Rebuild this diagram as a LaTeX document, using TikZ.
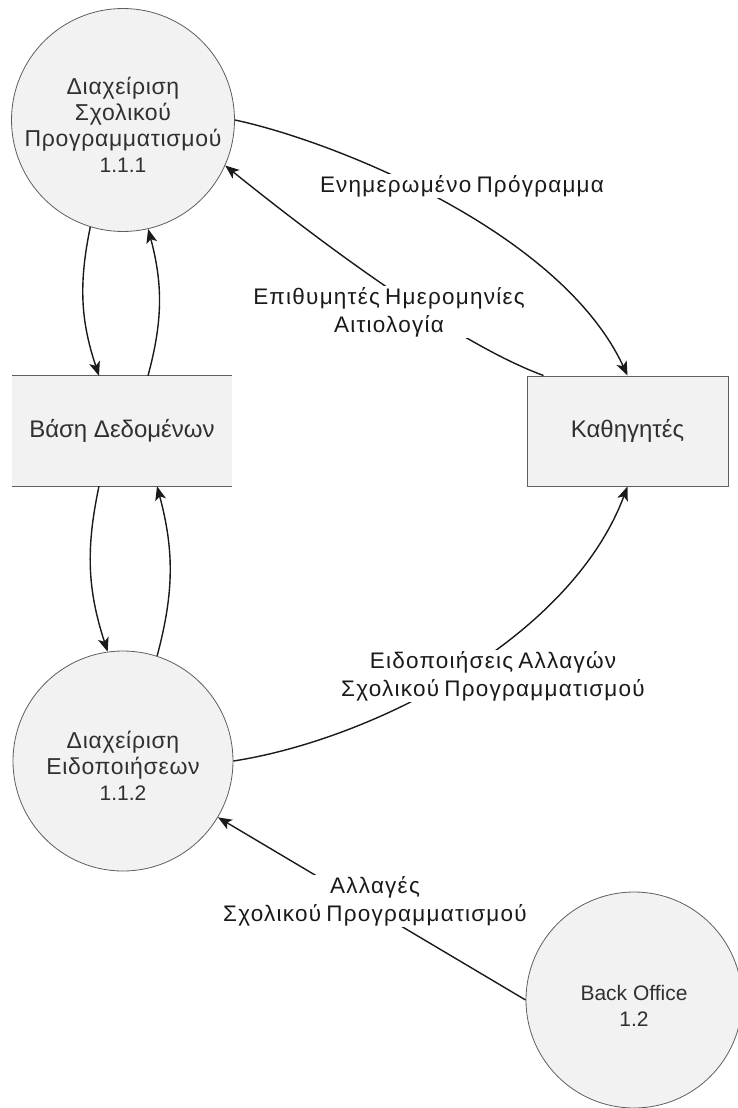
\documentclass[tikz,border=0pt]{standalone}
\usepackage{fontspec}
\setmainfont{Liberation Sans}
\newfontfamily\bubblefont[LetterSpace=3]{Liberation Sans}
\newfontfamily\flowfont[LetterSpace=5.5,WordSpace=0.7]{Liberation Sans}
\newcommand\procnum{\normalfont\fontsize{21}{26}\selectfont}
% invisible strut that lowers the text block inside a bubble
\newcommand\padtop{\rule{0pt}{27pt}}
\usetikzlibrary{arrows.meta}
\definecolor{shapefill}{HTML}{F2F2F2}
\definecolor{shapeline}{HTML}{5F5F5F}
\definecolor{shapetext}{HTML}{303030}
\definecolor{flowline}{HTML}{1A1A1A}
\tikzset{
  process/.style={circle, draw=shapeline, line width=0.8pt, fill=shapefill,
    minimum size=220pt, inner sep=0pt, align=center,
    font=\bubblefont\fontsize{23}{26}\selectfont, text=shapetext},
  entity/.style={rectangle, draw=shapeline, line width=1pt, fill=shapefill,
    minimum width=201pt, minimum height=110pt, inner sep=0pt,
    font=\fontsize{24}{27}\selectfont, text=shapetext},
  store/.style={rectangle, fill=shapefill, minimum width=220pt,
    minimum height=110pt, inner sep=0pt,
    font=\fontsize{24}{27}\selectfont, text=shapetext},
  storeedge/.style={draw=shapeline, line width=1.2pt},
  flow/.style={draw=flowline, line width=1.4pt,
    -{Stealth[length=14pt,width=11pt,inset=3.5pt]}},
  flowlabel/.style={fill=white, align=center, inner sep=1pt,
    font=\flowfont\fontsize{22.5}{28}\selectfont, text=flowline}
}
\begin{document}
\begin{tikzpicture}[x=1pt,y=-1pt]
\useasboundingbox[fill=white] (0,0) rectangle (737,1108);

% processes, store and external entity
\node[process] (A) at (123,120) {\padtop Διαχείριση\\Σχολικού\\Προγραμματισμού\\{\procnum 1.1.1}};
\node[store] (DB) at (122,431) {Βάση Δεδομένων};
\draw[storeedge] (DB.north west) -- (DB.north east);
\draw[storeedge] (DB.south west) -- (DB.south east);
\node[entity] (K) at (627.5,431) {Καθηγητές};
\node[process] (B) at (123,761) {\padtop Διαχείριση\\Ειδοποιήσεων\\{\procnum 1.1.2}};
\node[process, minimum size=216pt, font=\procnum] (C) at (634,1000) {\padtop Back Office\\1.2};

% anchor points on the store and the entity
\coordinate (DBn1) at ([xshift=-23pt]DB.north);
\coordinate (DBn2) at ([xshift=26pt]DB.north);
\coordinate (DBs1) at ([xshift=-23pt]DB.south);
\coordinate (DBs2) at ([xshift=35pt]DB.south);
\coordinate (Kin) at ([xshift=17pt]K.north west);

% data flows
\draw[flow] (A.east) .. controls (330,140) and (560,230) .. (K.north);
\draw[flow] (Kin) .. controls (460,345) and (330,250) .. (A.-24);
\draw[flow] (A.-107) to[bend right=15] (DBn1);
\draw[flow] (DBn2) to[bend right=15] (A.-77);
\draw[flow] (DBs1) to[bend right=15] (B.98);
\draw[flow] (B.72) to[bend right=15] (DBs2);
\draw[flow] (B.east) .. controls (370,740) and (570,640) .. (K.south);
\draw[flow] (C.west) -- (B);

% flow labels
\node[flowlabel] (l1) at (462,186) {Ενημερωμένο Πρόγραμμα};
\node[flowlabel] (l2) at (389,312) {Επιθυμητές Ημερομηνίες\\Αιτιολογία};
\node[flowlabel] (l3) at (493,676) {Ειδοποιήσεις Αλλαγών\\Σχολικού Προγραμματισμού};
\node[flowlabel] (l4) at (375,901) {Αλλαγές\\Σχολικού Προγραμματισμού};
\end{tikzpicture}
\end{document}
